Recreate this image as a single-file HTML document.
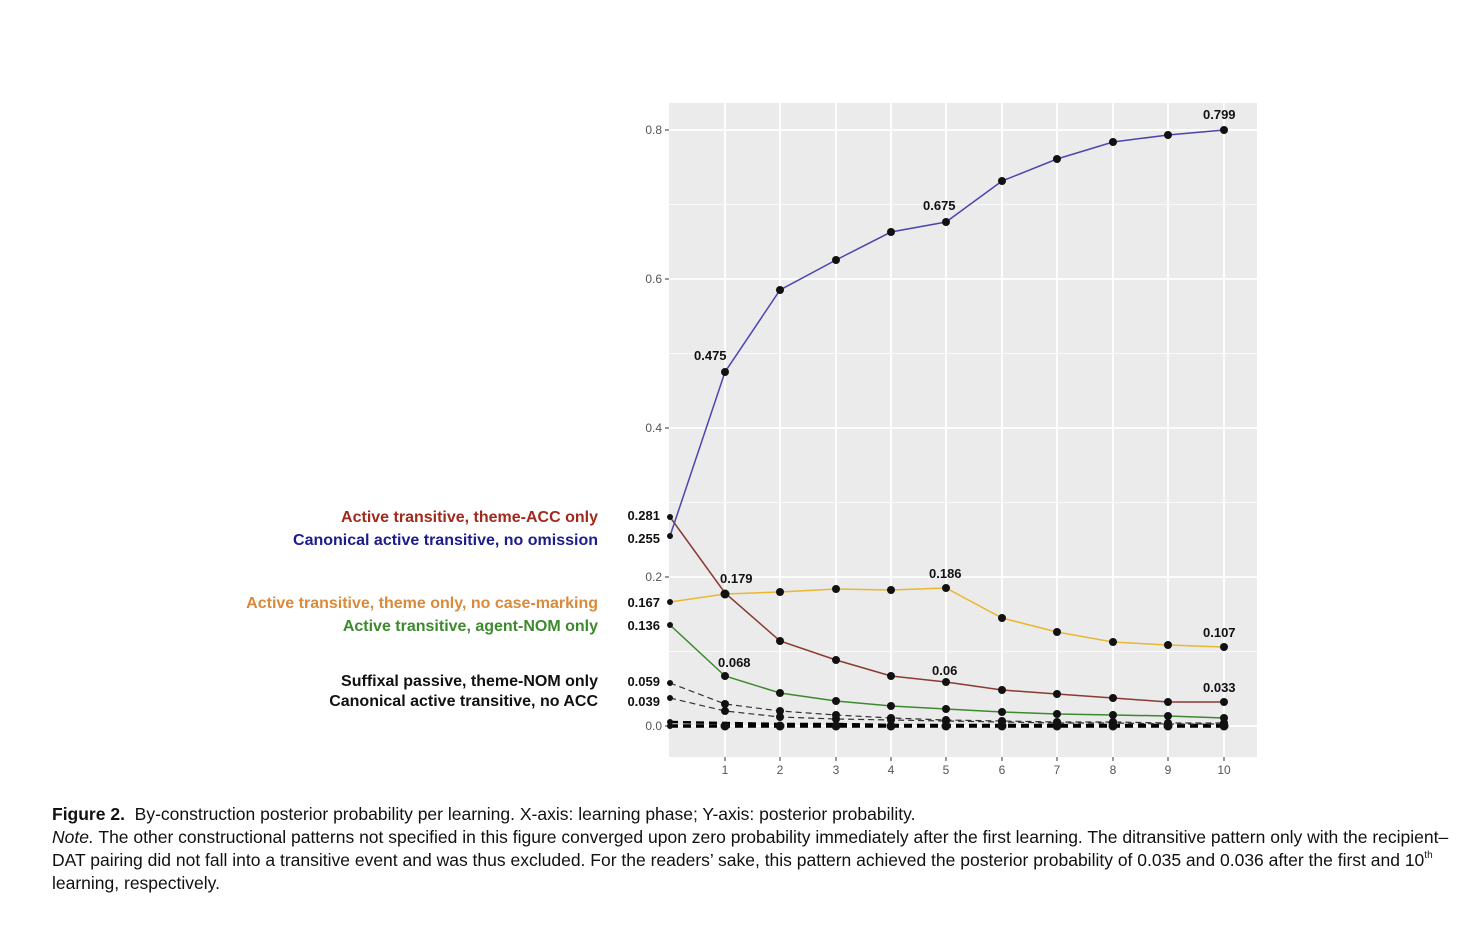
<!DOCTYPE html>
<html><head><meta charset="utf-8"><style>
body{margin:0;background:#fff;width:1468px;height:927px;overflow:hidden;position:relative;font-family:"Liberation Sans",sans-serif}
.cap{position:absolute;left:52px;font-size:17.5px;color:#111;white-space:nowrap;line-height:20px}
.cap sup{font-size:10px;line-height:0;vertical-align:baseline;position:relative;top:-8px}
</style></head><body>
<svg width="1468" height="927" style="position:absolute;left:0;top:0" font-family="Liberation Sans, sans-serif">
<rect x="669" y="103" width="588" height="654" fill="#ebebeb"/>
<g stroke="#fff" stroke-width="0.8">
<line x1="669" x2="1257" y1="204.5" y2="204.5"/><line x1="669" x2="1257" y1="353.5" y2="353.5"/><line x1="669" x2="1257" y1="502.5" y2="502.5"/><line x1="669" x2="1257" y1="651.5" y2="651.5"/>
</g>
<g stroke="#fff" stroke-width="1.8">
<line x1="669" x2="1257" y1="130" y2="130"/><line x1="669" x2="1257" y1="279" y2="279"/><line x1="669" x2="1257" y1="428" y2="428"/><line x1="669" x2="1257" y1="577" y2="577"/><line x1="669" x2="1257" y1="726" y2="726"/>
<line x1="725" x2="725" y1="103" y2="757"/><line x1="780" x2="780" y1="103" y2="757"/><line x1="836" x2="836" y1="103" y2="757"/><line x1="891" x2="891" y1="103" y2="757"/><line x1="946" x2="946" y1="103" y2="757"/><line x1="1002" x2="1002" y1="103" y2="757"/><line x1="1057" x2="1057" y1="103" y2="757"/><line x1="1113" x2="1113" y1="103" y2="757"/><line x1="1168" x2="1168" y1="103" y2="757"/><line x1="1224" x2="1224" y1="103" y2="757"/>
</g>
<g stroke="#333" stroke-width="1">
<line x1="665" x2="669" y1="130" y2="130"/><line x1="665" x2="669" y1="279" y2="279"/><line x1="665" x2="669" y1="428" y2="428"/><line x1="665" x2="669" y1="577" y2="577"/><line x1="665" x2="669" y1="726" y2="726"/>
<line x1="725" x2="725" y1="757" y2="761"/><line x1="780" x2="780" y1="757" y2="761"/><line x1="836" x2="836" y1="757" y2="761"/><line x1="891" x2="891" y1="757" y2="761"/><line x1="946" x2="946" y1="757" y2="761"/><line x1="1002" x2="1002" y1="757" y2="761"/><line x1="1057" x2="1057" y1="757" y2="761"/><line x1="1113" x2="1113" y1="757" y2="761"/><line x1="1168" x2="1168" y1="757" y2="761"/><line x1="1224" x2="1224" y1="757" y2="761"/>
</g>
<g fill="#555" font-size="12" text-anchor="end">
<text x="662" y="134">0.8</text><text x="662" y="283">0.6</text><text x="662" y="432">0.4</text><text x="662" y="581">0.2</text><text x="662" y="730">0.0</text>
</g>
<g fill="#555" font-size="12" text-anchor="middle">
<text x="725" y="774">1</text><text x="780" y="774">2</text><text x="836" y="774">3</text><text x="891" y="774">4</text><text x="946" y="774">5</text><text x="1002" y="774">6</text><text x="1057" y="774">7</text><text x="1113" y="774">8</text><text x="1168" y="774">9</text><text x="1224" y="774">10</text>
</g>
<g fill="none">
<polyline stroke="#000" stroke-width="3.5" stroke-dasharray="8,5" points="670,726 725,726 780,726 836,726 891,726 946,726 1002,726 1057,726 1113,726 1168,726 1224,726"/>
<polyline stroke="#000" stroke-width="2.5" stroke-dasharray="8,5" points="670,722 725,723 780,724 836,724 891,725 946,725 1002,725 1057,725 1113,725 1168,725 1224,725"/>
<polyline stroke="#333" stroke-width="1.2" stroke-dasharray="6,4" points="670,683 725,704 780,711 836,715 891,718 946,720 1002,721 1057,722 1113,722 1168,723 1224,723"/>
<polyline stroke="#333" stroke-width="1.2" stroke-dasharray="6,4" points="670,698 725,711 780,717 836,719 891,720 946,721 1002,722 1057,723 1113,723 1168,724 1224,724"/>
<polyline stroke="#3d8a2e" stroke-width="1.5" points="670,625 725,676 780,693 836,701 891,706 946,709 1002,712 1057,714 1113,715 1168,716 1224,718"/>
<polyline stroke="#e8b830" stroke-width="1.5" points="670,602 725,594 780,592 836,589 891,590 946,588 1002,618 1057,632 1113,642 1168,645 1224,647"/>
<polyline stroke="#8b3a33" stroke-width="1.5" points="670,517 725,593 780,641 836,660 891,676 946,682 1002,690 1057,694 1113,698 1168,702 1224,702"/>
<polyline stroke="#4b45b0" stroke-width="1.5" points="670,536 725,372 780,290 836,260 891,232 946,222 1002,181 1057,159 1113,142 1168,135 1224,130"/>
</g>
<g fill="#111">
<circle cx="725" cy="726" r="4.5"/><circle cx="780" cy="726" r="4.5"/><circle cx="836" cy="726" r="4.5"/><circle cx="891" cy="726" r="4.5"/><circle cx="946" cy="726" r="4.5"/><circle cx="1002" cy="726" r="4.5"/><circle cx="1057" cy="726" r="4.5"/><circle cx="1113" cy="726" r="4.5"/><circle cx="1168" cy="726" r="4.5"/><circle cx="1224" cy="726" r="4.5"/>
<circle cx="725" cy="704" r="4"/><circle cx="780" cy="711" r="4"/><circle cx="836" cy="715" r="4"/><circle cx="891" cy="718" r="4"/><circle cx="946" cy="720" r="4"/><circle cx="1002" cy="721" r="4"/><circle cx="1057" cy="722" r="4"/><circle cx="1113" cy="722" r="4"/><circle cx="1168" cy="723" r="4"/><circle cx="1224" cy="723" r="4"/>
<circle cx="725" cy="711" r="4"/><circle cx="780" cy="717" r="4"/><circle cx="836" cy="719" r="4"/><circle cx="891" cy="720" r="4"/><circle cx="946" cy="721" r="4"/><circle cx="1002" cy="722" r="4"/><circle cx="1057" cy="723" r="4"/><circle cx="1113" cy="723" r="4"/><circle cx="1168" cy="724" r="4"/><circle cx="1224" cy="724" r="4"/>
<circle cx="725" cy="676" r="4"/><circle cx="780" cy="693" r="4"/><circle cx="836" cy="701" r="4"/><circle cx="891" cy="706" r="4"/><circle cx="946" cy="709" r="4"/><circle cx="1002" cy="712" r="4"/><circle cx="1057" cy="714" r="4"/><circle cx="1113" cy="715" r="4"/><circle cx="1168" cy="716" r="4"/><circle cx="1224" cy="718" r="4"/>
<circle cx="725" cy="594" r="4.5"/><circle cx="780" cy="592" r="4"/><circle cx="836" cy="589" r="4"/><circle cx="891" cy="590" r="4"/><circle cx="946" cy="588" r="4"/><circle cx="1002" cy="618" r="4"/><circle cx="1057" cy="632" r="4"/><circle cx="1113" cy="642" r="4"/><circle cx="1168" cy="645" r="4"/><circle cx="1224" cy="647" r="4"/>
<circle cx="780" cy="641" r="4"/><circle cx="836" cy="660" r="4"/><circle cx="891" cy="676" r="4"/><circle cx="946" cy="682" r="4"/><circle cx="1002" cy="690" r="4"/><circle cx="1057" cy="694" r="4"/><circle cx="1113" cy="698" r="4"/><circle cx="1168" cy="702" r="4"/><circle cx="1224" cy="702" r="4"/>
<circle cx="725" cy="372" r="4"/><circle cx="780" cy="290" r="4"/><circle cx="836" cy="260" r="4"/><circle cx="891" cy="232" r="4"/><circle cx="946" cy="222" r="4"/><circle cx="1002" cy="181" r="4"/><circle cx="1057" cy="159" r="4"/><circle cx="1113" cy="142" r="4"/><circle cx="1168" cy="135" r="4"/><circle cx="1224" cy="130" r="4"/>
<circle cx="670" cy="517" r="3"/><circle cx="670" cy="536" r="3"/><circle cx="670" cy="602" r="3"/><circle cx="670" cy="625" r="3"/><circle cx="670" cy="683" r="3"/><circle cx="670" cy="698" r="3"/><circle cx="670" cy="722" r="3"/><circle cx="670" cy="726" r="3"/>
</g>
<g fill="#111" font-size="13" font-weight="bold">
<text x="1203" y="119">0.799</text><text x="923" y="210">0.675</text><text x="694" y="360">0.475</text>
<text x="720" y="583">0.179</text><text x="929" y="578">0.186</text><text x="1203" y="637">0.107</text>
<text x="718" y="667">0.068</text><text x="932" y="675">0.06</text><text x="1203" y="692">0.033</text>
</g>
<g fill="#111" font-size="13" font-weight="bold" text-anchor="end">
<text x="660" y="520">0.281</text><text x="660" y="543">0.255</text><text x="660" y="607">0.167</text><text x="660" y="630">0.136</text><text x="660" y="686">0.059</text><text x="660" y="706">0.039</text>
</g>
<g font-size="16" font-weight="bold" text-anchor="end">
<text x="598" y="522" fill="#a02a1e">Active transitive, theme-ACC only</text>
<text x="598" y="545" fill="#1c1c8c">Canonical active transitive, no omission</text>
<text x="598" y="608" fill="#d98a3a">Active transitive, theme only, no case-marking</text>
<text x="598" y="631" fill="#3d8a2e">Active transitive, agent-NOM only</text>
<text x="598" y="686" fill="#111">Suffixal passive, theme-NOM only</text>
<text x="598" y="706" fill="#111">Canonical active transitive, no ACC</text>
</g>
</svg>
<div class="cap" style="top:804px"><b>Figure 2.</b>&nbsp; By-construction posterior probability per learning. X-axis: learning phase; Y-axis: posterior probability.</div>
<div class="cap" style="top:827px"><i>Note.</i> The other constructional patterns not specified in this figure converged upon zero probability immediately after the first learning. The ditransitive pattern only with the recipient–</div>
<div class="cap" style="top:850px">DAT pairing did not fall into a transitive event and was thus excluded. For the readers’ sake, this pattern achieved the posterior probability of 0.035 and 0.036 after the first and 10<sup>th</sup></div>
<div class="cap" style="top:873px">learning, respectively.</div>
</body></html>
